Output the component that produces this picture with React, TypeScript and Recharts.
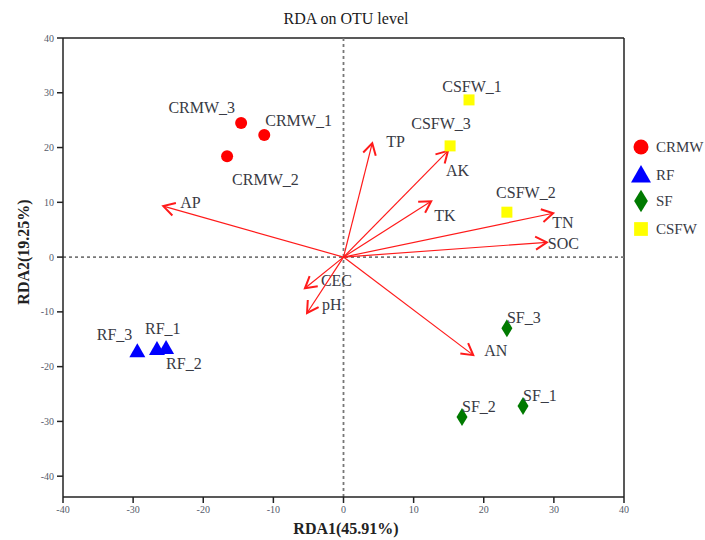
import { ScatterChart, Scatter, XAxis, YAxis, ReferenceLine } from "recharts";

// sample scores (RDA1, RDA2)
const crmw = [
  { name: "CRMW_1", x: -11.3, y: 22.3 },
  { name: "CRMW_2", x: -16.6, y: 18.4 },
  { name: "CRMW_3", x: -14.6, y: 24.5 },
];
const rf = [
  { name: "RF_1", x: -26.6, y: -16.8 },
  { name: "RF_2", x: -25.3, y: -16.6 },
  { name: "RF_3", x: -29.4, y: -17.2 },
];
const sf = [
  { name: "SF_1", x: 25.6, y: -27.2 },
  { name: "SF_2", x: 16.9, y: -29.2 },
  { name: "SF_3", x: 23.3, y: -13.0 },
];
const csfw = [
  { name: "CSFW_1", x: 17.9, y: 28.7 },
  { name: "CSFW_2", x: 23.3, y: 8.2 },
  { name: "CSFW_3", x: 15.2, y: 20.3 },
];

// environmental factor arrow tips
const envFactors = [
  { name: "TP", x: 4.1, y: 20.8 },
  { name: "AK", x: 14.9, y: 19.4 },
  { name: "TK", x: 12.5, y: 10.2 },
  { name: "TN", x: 29.9, y: 8.0 },
  { name: "SOC", x: 29.0, y: 2.7 },
  { name: "AP", x: -25.7, y: 9.3 },
  { name: "CEC", x: -5.5, y: -5.7 },
  { name: "pH", x: -5.2, y: -10.2 },
  { name: "AN", x: 18.5, y: -17.9 },
];

const xTicks = [-40, -30, -20, -10, 0, 10, 20, 30, 40];
const yTicks = [-40, -30, -20, -10, 0, 10, 20, 30, 40];

const FONT = '"Liberation Serif", "Times New Roman", serif';
const TEXT = "#383a44";

// label placement, [dx, dy, anchor]
const sampleLabelPos: Record<string, [number, number, string]> = {
  CRMW_1: [1, -14, "start"],
  CRMW_2: [5, 23, "start"],
  CRMW_3: [-6, -15, "end"],
  CSFW_1: [3, -13, "middle"],
  CSFW_2: [19, -20, "middle"],
  CSFW_3: [-9, -22, "middle"],
  RF_1: [-12, -21, "start"],
  RF_2: [0, 15, "start"],
  RF_3: [-5, -17, "end"],
  SF_1: [0, -11, "start"],
  SF_2: [0, -11, "start"],
  SF_3: [0, -11, "start"],
};
const envLabelPos: Record<string, [number, number]> = {
  TP: [14, -2],
  AK: [-2, 20],
  TK: [3, 14],
  TN: [-1, 9],
  SOC: [1, 1],
  AP: [17, -4],
  CEC: [16, -8],
  pH: [15, -8],
  AN: [11, -5],
};

type Kind = "circle" | "triangle" | "diamond" | "square";

function Glyph({ kind, cx, cy, color, big }: { kind: Kind; cx: number; cy: number; color: string; big?: boolean }) {
  const k = big ? 1.25 : 1;
  if (kind === "circle") return <circle cx={cx} cy={cy} r={6 * k} fill={color} />;
  if (kind === "triangle")
    return (
      <polygon
        points={`${cx},${cy - 8 * k} ${cx - 8 * k},${cy + 6 * k} ${cx + 8 * k},${cy + 6 * k}`}
        fill={color}
      />
    );
  if (kind === "diamond")
    return (
      <polygon
        points={`${cx},${cy - 9 * k} ${cx + 5.5 * k},${cy} ${cx},${cy + 9 * k} ${cx - 5.5 * k},${cy}`}
        fill={color}
      />
    );
  return <rect x={cx - 5.5 * k} y={cy - 5.5 * k} width={11 * k} height={11 * k} fill={color} />;
}

function pointShape(kind: Kind, color: string) {
  return (p: any) => {
    const name = p.payload?.name as string;
    const [dx, dy, anchor] = sampleLabelPos[name] || [0, -12, "start"];
    return (
      <g>
        <Glyph kind={kind} cx={p.cx} cy={p.cy} color={color} />
        <text
          x={p.cx + dx}
          y={p.cy + dy}
          textAnchor={anchor as any}
          dominantBaseline="central"
          fontSize={16}
          fontFamily={FONT}
          fill={TEXT}
        >
          {name}
        </text>
      </g>
    );
  };
}

function arrowShape(label: string) {
  return (p: any) => {
    const { x1, y1, x2, y2 } = p;
    const ang = Math.atan2(y2 - y1, x2 - x1);
    const len = 13;
    const s = 0.52;
    const ax = x2 - len * Math.cos(ang - s);
    const ay = y2 - len * Math.sin(ang - s);
    const bx = x2 - len * Math.cos(ang + s);
    const by = y2 - len * Math.sin(ang + s);
    const [dx, dy] = envLabelPos[label] || [4, 0];
    return (
      <g>
        <line x1={x1} y1={y1} x2={x2} y2={y2} stroke="#ff1a1a" strokeWidth={1.2} />
        <path d={`M${ax},${ay} L${x2},${y2} L${bx},${by}`} fill="none" stroke="#ff1a1a" strokeWidth={2} />
        <text
          x={x2 + dx}
          y={y2 + dy}
          dominantBaseline="central"
          fontSize={16}
          fontFamily={FONT}
          fill={TEXT}
        >
          {label}
        </text>
      </g>
    );
  };
}

const groups: { name: string; data: typeof crmw; kind: Kind; color: string }[] = [
  { name: "CRMW", data: crmw, kind: "circle", color: "#ff0000" },
  { name: "RF", data: rf, kind: "triangle", color: "#0000ff" },
  { name: "SF", data: sf, kind: "diamond", color: "#007a00" },
  { name: "CSFW", data: csfw, kind: "square", color: "#ffff00" },
];
const legendRows = [147, 175, 201, 229];

export default function App() {
  return (
    <div style={{ position: "absolute", left: 0, top: 0, width: 705, height: 540, fontFamily: FONT }}>
      <div
        style={{
          position: "absolute",
          left: 246,
          top: 9,
          width: 200,
          textAlign: "center",
          fontSize: 16,
          lineHeight: "20px",
          color: "#1a1a1a",
          fontWeight: 500,
        }}
      >
        RDA on OTU level
      </div>
      <ScatterChart width={705} height={540} margin={{ top: 38, right: 81, bottom: 13, left: 3 }}>
        <XAxis
          type="number"
          dataKey="x"
          domain={[-40, 40]}
          ticks={xTicks}
          allowDataOverflow
          height={30}
          tickSize={6}
          tickMargin={3}
          axisLine={{ stroke: "#222", strokeWidth: 1.5 }}
          tickLine={{ stroke: "#222", strokeWidth: 1.5 }}
          tick={{ fontSize: 10, fill: "#555b6a", fontFamily: FONT }}
          label={() => (
            <text x={346} y={528} textAnchor="middle" dominantBaseline="central" fontSize={16} fontWeight="bold" fontFamily={FONT} fill="#222">
              RDA1(45.91%)
            </text>
          )}
        />
        <YAxis
          type="number"
          dataKey="y"
          domain={[-43.8, 40]}
          ticks={yTicks}
          allowDataOverflow
          width={60}
          tickSize={6}
          tickMargin={3}
          axisLine={{ stroke: "#222", strokeWidth: 1.5 }}
          tickLine={{ stroke: "#222", strokeWidth: 1.5 }}
          tick={{ fontSize: 10, fill: "#555b6a", fontFamily: FONT }}
          label={() => (
            <text
              x={23}
              y={252}
              transform="rotate(-90 23 252)"
              textAnchor="middle"
              dominantBaseline="central"
              fontSize={16}
              fontWeight="bold"
              fontFamily={FONT}
              fill="#222"
            >
              RDA2(19.25%)
            </text>
          )}
        />
        <ReferenceLine y={40} stroke="#222" strokeWidth={1.5} />
        <ReferenceLine x={40} stroke="#222" strokeWidth={1.5} />
        <ReferenceLine x={0} stroke="#777" strokeWidth={1.8} strokeDasharray="3 3" />
        <ReferenceLine y={0} stroke="#777" strokeWidth={1.8} strokeDasharray="3 3" />
        {envFactors.map((f) => (
          <ReferenceLine
            key={f.name}
            segment={[
              { x: 0, y: 0 },
              { x: f.x, y: f.y },
            ]}
            shape={arrowShape(f.name)}
          />
        ))}
        {groups.map((g) => (
          <Scatter
            key={g.name}
            name={g.name}
            data={g.data}
            isAnimationActive={false}
            shape={pointShape(g.kind, g.color)}
          />
        ))}
      </ScatterChart>
      <svg style={{ position: "absolute", left: 625, top: 120 }} width={80} height={130}>
        {groups.map((g, i) => (
          <g key={g.name}>
            <Glyph kind={g.kind} cx={16} cy={legendRows[i] - 120} color={g.color} big />
            <text x={31} y={legendRows[i] - 120} dominantBaseline="central" fontSize={15} fontFamily={FONT} fill={TEXT}>
              {g.name}
            </text>
          </g>
        ))}
      </svg>
    </div>
  );
}
